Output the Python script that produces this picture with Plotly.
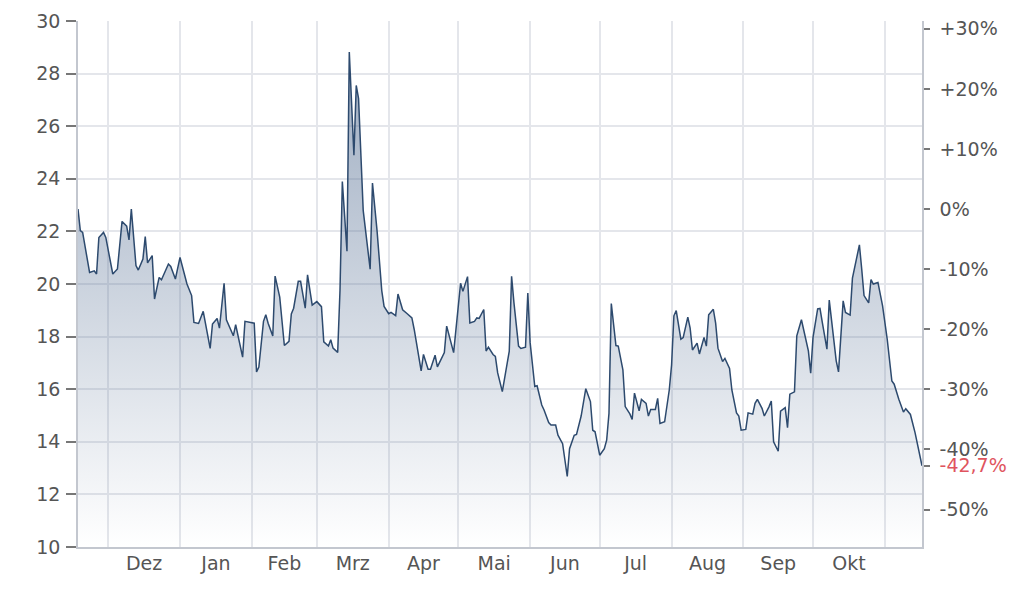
import plotly.graph_objects as go
import pandas as pd

# ---------------- data ----------------
dates = [
    "2021-11-18", "2021-11-19", "2021-11-20", "2021-11-23", "2021-11-25", "2021-11-26", "2021-11-27", "2021-11-29", "2021-11-30",
    "2021-12-03", "2021-12-05", "2021-12-07", "2021-12-09", "2021-12-10", "2021-12-11", "2021-12-13", "2021-12-14", "2021-12-16",
    "2021-12-17", "2021-12-18", "2021-12-20", "2021-12-21", "2021-12-23", "2021-12-24", "2021-12-27", "2021-12-28", "2021-12-30",
    "2022-01-01", "2022-01-04", "2022-01-06", "2022-01-07", "2022-01-09", "2022-01-11", "2022-01-14", "2022-01-15", "2022-01-17",
    "2022-01-18", "2022-01-20", "2022-01-21", "2022-01-24", "2022-01-25", "2022-01-28", "2022-01-29", "2022-01-31",
    "2022-02-02", "2022-02-03", "2022-02-04", "2022-02-06", "2022-02-07", "2022-02-08", "2022-02-10", "2022-02-11", "2022-02-13",
    "2022-02-15", "2022-02-17", "2022-02-18", "2022-02-19", "2022-02-21", "2022-02-22", "2022-02-24", "2022-02-25", "2022-02-27",
    "2022-03-01", "2022-03-03", "2022-03-04", "2022-03-06", "2022-03-07", "2022-03-08", "2022-03-10", "2022-03-11", "2022-03-12",
    "2022-03-14", "2022-03-15", "2022-03-17", "2022-03-18", "2022-03-19", "2022-03-21", "2022-03-24", "2022-03-25", "2022-03-27",
    "2022-03-29", "2022-03-30",
    "2022-04-01", "2022-04-02", "2022-04-04", "2022-04-05", "2022-04-07", "2022-04-09", "2022-04-11", "2022-04-12", "2022-04-15",
    "2022-04-16", "2022-04-18", "2022-04-19", "2022-04-21", "2022-04-22", "2022-04-25", "2022-04-26", "2022-04-29",
    "2022-05-02", "2022-05-03", "2022-05-05", "2022-05-06", "2022-05-08", "2022-05-09", "2022-05-10", "2022-05-12", "2022-05-13",
    "2022-05-14", "2022-05-16", "2022-05-17", "2022-05-18", "2022-05-20", "2022-05-23", "2022-05-24", "2022-05-25", "2022-05-27",
    "2022-05-28", "2022-05-30", "2022-05-31",
    "2022-06-01", "2022-06-03", "2022-06-04", "2022-06-06", "2022-06-07", "2022-06-09", "2022-06-10", "2022-06-12", "2022-06-13",
    "2022-06-15", "2022-06-17", "2022-06-18", "2022-06-20", "2022-06-21", "2022-06-23", "2022-06-25", "2022-06-27", "2022-06-28",
    "2022-06-29",
    "2022-07-01", "2022-07-03", "2022-07-04", "2022-07-05", "2022-07-06", "2022-07-08", "2022-07-09", "2022-07-11", "2022-07-12",
    "2022-07-14", "2022-07-15", "2022-07-16", "2022-07-18", "2022-07-19", "2022-07-21", "2022-07-22", "2022-07-23", "2022-07-25",
    "2022-07-26", "2022-07-27", "2022-07-29", "2022-07-31",
    "2022-08-01", "2022-08-02", "2022-08-03", "2022-08-05", "2022-08-06", "2022-08-08", "2022-08-09", "2022-08-10", "2022-08-12",
    "2022-08-13", "2022-08-15", "2022-08-16", "2022-08-17", "2022-08-19", "2022-08-20", "2022-08-21", "2022-08-23", "2022-08-24",
    "2022-08-26", "2022-08-27", "2022-08-29", "2022-08-30", "2022-08-31",
    "2022-09-02", "2022-09-03", "2022-09-05", "2022-09-06", "2022-09-07", "2022-09-09", "2022-09-10", "2022-09-12", "2022-09-13",
    "2022-09-14", "2022-09-16", "2022-09-17", "2022-09-19", "2022-09-20", "2022-09-21", "2022-09-23", "2022-09-24", "2022-09-26",
    "2022-09-27", "2022-09-29", "2022-09-30",
    "2022-10-01", "2022-10-03", "2022-10-04", "2022-10-05", "2022-10-07", "2022-10-08", "2022-10-10", "2022-10-11", "2022-10-12",
    "2022-10-14", "2022-10-15", "2022-10-17", "2022-10-18", "2022-10-19", "2022-10-21", "2022-10-22", "2022-10-23", "2022-10-25",
    "2022-10-26", "2022-10-27", "2022-10-29", "2022-10-31",
    "2022-11-02", "2022-11-04", "2022-11-05", "2022-11-07", "2022-11-09", "2022-11-10", "2022-11-12", "2022-11-14", "2022-11-15",
    "2022-11-16", "2022-11-17",
]

prices = [
    22.85, 22.03, 21.96, 20.44, 20.5, 20.38, 21.77, 21.96, 21.77,
    20.38, 20.57, 22.38, 22.2, 21.68, 22.85, 20.7, 20.53, 20.95, 21.8, 20.8, 21.08, 19.43, 20.25, 20.16, 20.76, 20.67, 20.19,
    21.01, 20.0, 19.56, 18.54, 18.5, 18.96, 17.55, 18.48, 18.69, 18.32, 20.03, 18.64, 18.03, 18.45, 17.22, 18.58, 18.55,
    18.51, 16.66, 16.84, 18.58, 18.83, 18.51, 18.02, 20.3, 19.5, 17.66, 17.82, 18.86, 19.08, 20.1, 20.1, 19.08, 20.35, 19.2,
    19.33, 19.14, 17.8, 17.64, 17.88, 17.56, 17.4, 19.77, 23.9, 21.25, 28.82, 24.9, 27.55, 27.05, 22.8, 20.56, 23.84, 22.0,
    19.75, 19.15,
    18.87, 18.92, 18.8, 19.62, 19.02, 18.87, 18.71, 18.27, 16.7, 17.32, 16.76, 16.76, 17.29, 16.85, 17.39, 18.4, 17.39,
    20.03, 19.72, 20.28, 18.52, 18.58, 18.71, 18.69, 19.03, 17.45, 17.6, 17.32, 17.25, 16.62, 15.91, 17.45, 20.29, 19.3,
    17.64, 17.55, 17.6, 19.66,
    17.77, 16.1, 16.13, 15.4, 15.21, 14.73, 14.64, 14.64, 14.25, 13.93, 12.68, 13.74, 14.25, 14.28, 14.98, 16.02, 15.53,
    14.44, 14.38,
    13.49, 13.74, 14.06, 15.08, 19.26, 17.66, 17.64, 16.74, 15.34, 15.06, 14.85, 15.85, 15.18, 15.61, 15.46, 14.98, 15.23,
    15.23, 15.65, 14.7, 14.76, 15.97,
    16.92, 18.79, 18.99, 17.9, 17.96, 18.74, 18.32, 17.49, 17.75, 17.34, 17.97, 17.64, 18.83, 19.04, 18.51, 17.56, 17.05,
    17.17, 16.79, 15.97, 15.1, 14.98, 14.44,
    14.47, 15.1, 15.05, 15.46, 15.61, 15.27, 14.98, 15.33, 15.55, 14.0, 13.64, 15.17, 15.3, 14.54, 15.81, 15.9, 18.03,
    18.64, 18.22, 17.46, 16.61,
    17.97, 19.05, 19.07, 18.54, 17.52, 19.39, 17.9, 17.08, 16.66, 19.36, 18.92, 18.82, 20.22, 20.64, 21.49, 20.57, 19.56,
    19.28, 20.17, 20.0, 20.06, 19.17,
    17.9, 16.31, 16.19, 15.62, 15.13, 15.26, 15.04, 14.35, 13.96, 13.6, 13.09,
]

month_labels = ["Dez", "Jan", "Feb", "Mrz", "Apr", "Mai", "Jun", "Jul", "Aug", "Sep", "Okt"]
month_starts = ["2021-12-01", "2022-01-01", "2022-02-01", "2022-03-01", "2022-04-01", "2022-05-01",
                "2022-06-01", "2022-07-01", "2022-08-01", "2022-09-01", "2022-10-01", "2022-11-01"]
price_ticks = [10, 12, 14, 16, 18, 20, 22, 24, 26, 28, 30]
pct_ticks = [30, 20, 10, 0, -10, -20, -30, -40, -50]

assert len(dates) == len(prices)

# ---------------- derived ----------------
base = prices[0]
last_pct = (prices[-1] / base - 1) * 100
starts = pd.to_datetime(month_starts)
mids = [starts[i] + (starts[i + 1] - starts[i]) / 2 for i in range(len(month_labels))]

def fmt_pct(v):
    if round(v) == 0:
        return "0%"
    return ("+" if v > 0 else "") + f"{v:.0f}%"

pct_vals = pct_ticks + [last_pct]
pct_text = [fmt_pct(v) for v in pct_ticks] + [
    '<span style="color:#e0545e">' + f"{last_pct:.1f}".replace(".", ",") + "%</span>"
]

y_lo, y_hi = price_ticks[0], price_ticks[-1]

TEXT = "#555555"
GRID = "#e4e6eb"
AXIS = "#c3c7cf"
FONT = dict(family="DejaVu Sans", size=19, color=TEXT)

fig = go.Figure()
fig.add_trace(go.Scatter(
    x=dates, y=prices, mode="lines",
    line=dict(color="#2d4a6e", width=1.5),
    fill="tozeroy",
    fillgradient=dict(type="vertical", start=y_lo, stop=29,
                      colorscale=[[0, "rgba(90,115,150,0)"], [1, "rgba(90,115,150,0.6)"]]),
    hoverinfo="skip", showlegend=False,
))
fig.add_trace(go.Scatter(
    x=dates, y=[(p / base - 1) * 100 for p in prices], yaxis="y2",
    mode="lines", line=dict(width=0), opacity=0, hoverinfo="skip", showlegend=False,
))

fig.update_layout(
    width=1014, height=574,
    margin=dict(l=70, r=100, t=13, b=35, autoexpand=False),
    paper_bgcolor="white", plot_bgcolor="white",
    font=FONT, showlegend=False,
    xaxis=dict(
        type="date", range=[dates[0], dates[-1]],
        tickmode="array", tickvals=mids, ticktext=month_labels,
        ticks="", showgrid=False, zeroline=False,
        showline=True, linecolor=AXIS, linewidth=1.5,
        minor=dict(tickmode="array", tickvals=month_starts, showgrid=True,
                   gridcolor=GRID, gridwidth=1.5, ticks=""),
        tickfont=FONT, fixedrange=True, ticklabelstandoff=-2,
    ),
    yaxis=dict(
        range=[y_lo, y_hi], tickmode="array", tickvals=price_ticks,
        ticks="outside", ticklen=10, tickcolor="#777777", tickwidth=1.5,
        showgrid=True, gridcolor=GRID, gridwidth=1.5, zeroline=False,
        showline=True, linecolor=AXIS, linewidth=1.5,
        tickfont=FONT, ticklabelstandoff=2,
    ),
    yaxis2=dict(
        overlaying="y", side="right",
        range=[(y_lo / base - 1) * 100, (y_hi / base - 1) * 100],
        tickmode="array", tickvals=pct_vals, ticktext=pct_text,
        ticks="outside", ticklen=6, tickcolor="#777777", tickwidth=1.5,
        showgrid=False, zeroline=False,
        showline=True, linecolor=AXIS, linewidth=1.5,
        tickfont=FONT, ticklabelstandoff=6,
    ),
)

fig.write_html("out.html")
